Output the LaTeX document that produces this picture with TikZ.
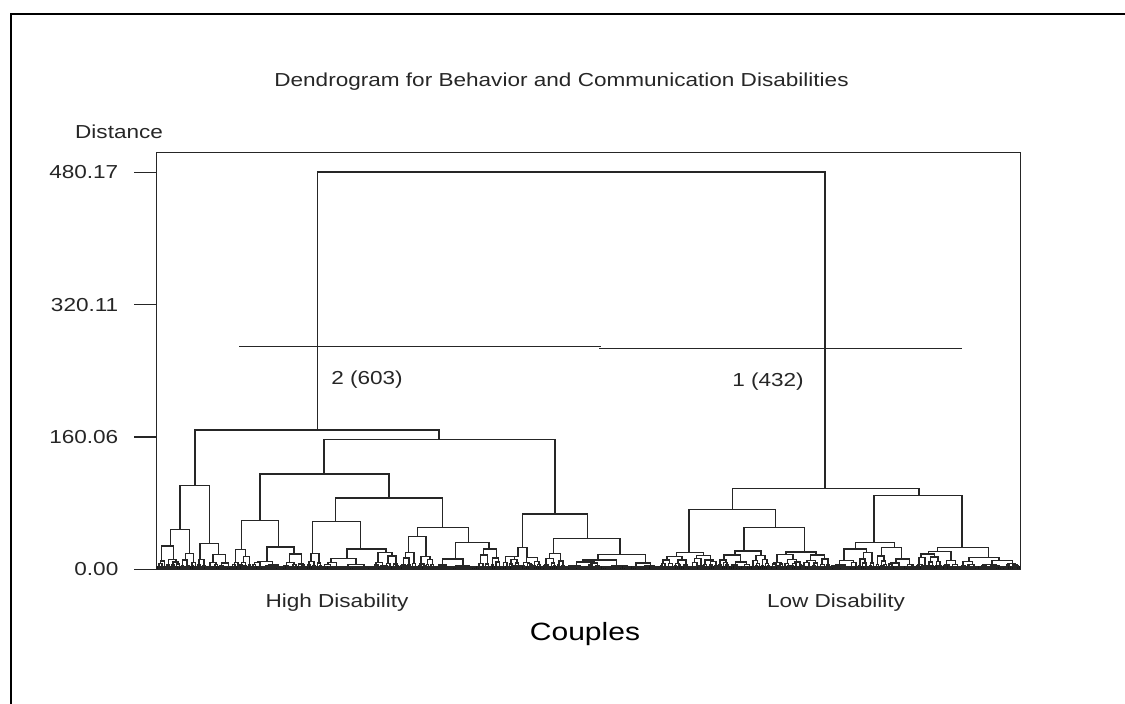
\documentclass[tikz,border=0pt]{standalone}
\usepackage{fontspec}
\setmainfont{Liberation Sans}
\newfontfamily\wfont[FakeStretch=1.2]{Liberation Sans}
\tikzset{
  dl/.style={line width=1.45pt, line join=miter, line cap=rect, black!85},
  lbl/.style={inner sep=0pt, font=\wfont\fontsize{18.8}{20}\selectfont, text=black!85},
  bigl/.style={inner sep=0pt, font=\wfont\fontsize{25}{27}\selectfont, text=black}
}
\def\Base{569.3}
\newcommand\rtree[4]{%
 \begingroup
 \pgfmathsetmacro\rw{#2-#1}%
 \pgfmathsetmacro\ry{\Base-#3}%
 \ifdim\rw pt<2.5pt
   \draw[dl] (#4,\ry) -- (#4,\Base);
 \else
   \pgfmathsetmacro\rs{#1+(0.3+0.4*rnd)*\rw}%
   \pgfmathsetmacro\rxl{(#1+\rs)/2}%
   \pgfmathsetmacro\rxr{(\rs+#2)/2}%
   \pgfmathsetmacro\rdl{max(2.5,min(#3*(0.35+0.5*rnd),1.0*(\rs-#1)))}%
   \pgfmathsetmacro\rdr{max(2.5,min(#3*(0.35+0.5*rnd),1.0*(#2-\rs)))}%
   \pgfmathsetmacro\rhl{min(\rxl,#4)}%
   \pgfmathsetmacro\rhr{max(\rxr,#4)}%
   \pgfmathsetmacro\ryl{\Base-\rdl}%
   \pgfmathsetmacro\ryr{\Base-\rdr}%
   \draw[dl] (\rhl,\ry) -- (\rhr,\ry);
   \draw[dl] (\rxl,\ry) -- (\rxl,\ryl);
   \draw[dl] (\rxr,\ry) -- (\rxr,\ryr);
   \edef\next{\noexpand\rtree{#1}{\rs}{\rdl}{\rxl}\noexpand\rtree{\rs}{#2}{\rdr}{\rxr}}%
   \next
 \fi
 \endgroup}
% a s b y xl xr
\newcommand\tnode[6]{%
 \begingroup
 \pgfmathsetmacro\td{\Base-#4}%
 \pgfmathsetmacro\tdl{max(2.5,min(\td*(0.35+0.5*rnd),1.0*(#2-#1)))}%
 \pgfmathsetmacro\tdr{max(2.5,min(\td*(0.35+0.5*rnd),1.0*(#3-#2)))}%
 \pgfmathsetmacro\tyl{\Base-\tdl}%
 \pgfmathsetmacro\tyr{\Base-\tdr}%
 \draw[dl] (#5,\tyl) |- (#6,#4) -- (#6,\tyr);
 \edef\next{\noexpand\rtree{#1}{#2}{\tdl}{#5}\noexpand\rtree{#2}{#3}{\tdr}{#6}}%
 \next
 \endgroup}
\begin{document}
\begin{tikzpicture}[x=1pt,y=-1pt]
\useasboundingbox (0,0) rectangle (1125,704);
\pgfmathsetseed{7}
% outer border
\draw[line width=2pt] (11,704) -- (11,13.7) -- (1074,13.7);
\draw[line width=2.6pt] (1074,14) -- (1125,14);
% title
\node[lbl] (title) at (561.5,82) {Dendrogram for Behavior and Communication Disabilities};
\node[lbl, anchor=base west] (ylab) at (75,138.3) {Distance};
% frame
\draw[dl] (156.7,152.7) rectangle (1020.7,569.3);
% dense base band
\fill[black!90] (157,566) rectangle (1020,569.3);
% ticks and labels
\foreach \yy/\tx/\nm in {172.3/480.17/t1, 304.6/320.11/t2, 437/160.06/t3, 569.3/0.00/t4}{
  \draw[dl] (135,\yy) -- (156.7,\yy);
  \node[lbl, anchor=east] (\nm) at (118.5,\yy) {\tx};
}
% cut line
\draw[dl] (239.3,346.7) -- (600,346.7);
\draw[dl] (600,348.3) -- (961,348.3);
\node[lbl] (c2) at (367,380) {2 (603)};
\node[lbl] (c1) at (768,382) {1 (432)};
% top-level dendrogram
\draw[dl] (317.3,430) |- (825,172) -- (825,488.3);
\draw[dl] (195,485.7) |- (439,430) -- (439,439.3);
\draw[dl] (180,529.3) |- (209.3,485.7) -- (209.3,543.7);
\draw[dl] (324,474) |- (555,439.3) -- (555,514);
\draw[dl] (260,520.3) |- (389,474) -- (389,498);
\draw[dl] (335.7,521.7) |- (442.3,498) -- (442.3,527.7);
\draw[dl] (522.3,547.3) |- (587.3,514) -- (587.3,538.3);
\draw[dl] (732.3,509.7) |- (919,488.3) -- (919,495.7);
\draw[dl] (689,552.3) |- (775.7,509.7) -- (775.7,527.7);
\draw[dl] (874,542.3) |- (962,495.7) -- (962,547.3);
% lower subtrees
\tnode{157.5}{181}{197}{529.3}{170.7}{189.3}
\tnode{197}{207}{232}{543.7}{200}{218.3}
\tnode{232}{252}{306}{520.3}{241.7}{278.7}
\tnode{306}{322}{400}{521.7}{312.7}{360.3}
\tnode{400}{435}{502}{527.7}{417.3}{468.3}
\tnode{502}{520}{542}{547.3}{518}{527}
\tnode{542}{565}{660}{538.3}{553.3}{620}
\tnode{660}{690}{718}{552.3}{676.7}{703.3}
\tnode{718}{770}{830}{527.7}{744}{804.3}
\tnode{830}{875}{915}{542.3}{855.3}{894.3}
\tnode{915}{960}{1019.5}{547.3}{937.3}{988.7}
% axis labels
\node[lbl] (hi) at (337,603) {High Disability};
\node[lbl] (lo) at (836,603) {Low Disability};
\node[bigl] (cp) at (585,634) {Couples};
\end{tikzpicture}
\end{document}
